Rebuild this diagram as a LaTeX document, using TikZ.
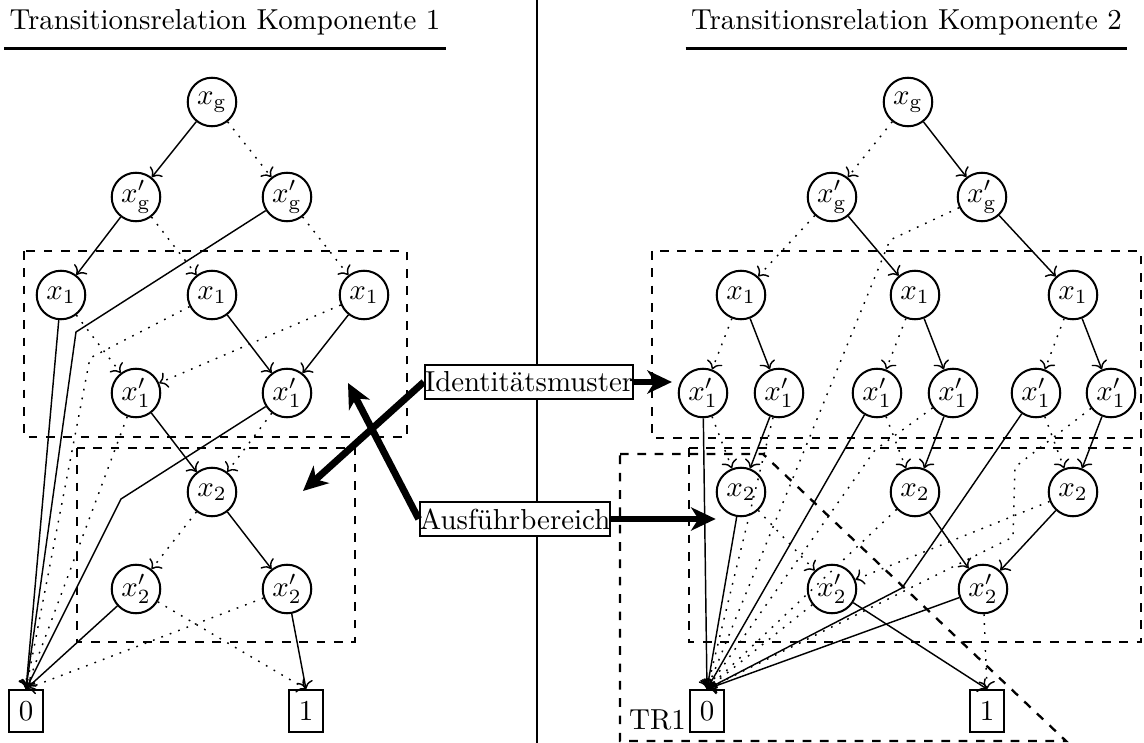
\documentclass[tikz,border=0pt]{standalone}
\usepackage{amsmath}
\usepackage{tikz}
\usetikzlibrary{arrows,arrows.meta,shapes,positioning,calc}

\tikzset{
  var/.style={draw, circle, line width=0.7pt, minimum size=16.8pt, inner sep=0pt},
  leaf/.style={draw, rectangle, line width=0.7pt, minimum width=11.7pt, minimum height=14.5pt, inner sep=0pt},
  hi/.style={->, line width=0.5pt},
  lo/.style={->, line width=0.5pt, dash pattern=on 0.6pt off 2.5pt},
  region/.style={dashed, thick},
  callout/.style={draw, rectangle, line width=0.7pt, fill=white, inner xsep=0pt, inner ysep=0pt, minimum height=11.8pt},
  pointer/.style={-{Stealth[length=8.5pt, width=8pt, inset=2.5pt]}, line width=2.4pt},
  heading/.style={anchor=base, inner xsep=1.7pt, inner ysep=4.3pt}
}

\begin{document}
\begin{tikzpicture}[x=3.46pt, y=3.46pt]
\useasboundingbox (0,0) rectangle (114.4,74.3);

% Headings
\node[heading] (head1) at (22.5,71.3) {Transitionsrelation Komponente 1};
\node[heading] (head2) at (90.65,71.3) {Transitionsrelation Komponente 2};
\draw[thick] (head1.south west) -- (head1.south east);
\draw[thick] (head2.south west) -- (head2.south east);

% Separator
\coordinate (septop) at (53.7,74.3);
\coordinate (sepbot) at (53.7,0);
\draw (septop) -- (sepbot);

% Regions
\draw[region] (2.4,49.2) rectangle (40.7,30.6);
\draw[region] (7.7,29.5) rectangle (35.5,10.1);
\draw[region] (65.2,49.2) rectangle (114.1,30.5);
\draw[region] (68.9,29.5) rectangle (114.1,10.1);
\draw[region] (62.0,28.9) -- (76.3,28.9) -- (106.6,0.2) -- (62.0,0.2) -- cycle;
\node[anchor=base, inner sep=0pt] (tr1) at (65.75,1.3) {TR1};

% Component 1
\node[var] (lg) at (21.2,64.1) {$x_{\mathrm{g}}$};
\node[var] (lgp1) at (13.6,54.6) {$x'_{\mathrm{g}}$};
\node[var] (lgp2) at (28.7,54.6) {$x'_{\mathrm{g}}$};
\node[var] (l1a) at (6.1,44.8) {$x_1$};
\node[var] (l1b) at (21.2,44.8) {$x_1$};
\node[var] (l1c) at (36.4,44.8) {$x_1$};
\node[var] (l1pa) at (13.6,35.0) {$x'_1$};
\node[var] (l1pb) at (28.7,35.0) {$x'_1$};
\node[var] (l2) at (21.2,25.1) {$x_2$};
\node[var] (l2pa) at (13.6,15.4) {$x'_2$};
\node[var] (l2pb) at (28.7,15.4) {$x'_2$};
\node[leaf] (lzero) at (2.6,3.2) {0};
\node[leaf] (lone) at (30.6,3.2) {1};

\coordinate (lbendA) at (7.6,41.1);
\coordinate (lbendB) at (9.0,38.5);
\coordinate (lbendC) at (12.1,24.4);

% Component 2
\node[var] (rg) at (90.8,64.1) {$x_{\mathrm{g}}$};
\node[var] (rgp1) at (83.2,54.6) {$x'_{\mathrm{g}}$};
\node[var] (rgp2) at (98.2,54.6) {$x'_{\mathrm{g}}$};
\node[var] (r1a) at (74.1,44.8) {$x_1$};
\node[var] (r1b) at (91.5,44.8) {$x_1$};
\node[var] (r1c) at (107.3,44.8) {$x_1$};
\node[var] (r1pa) at (70.3,35.0) {$x'_1$};
\node[var] (r1pb) at (77.9,35.0) {$x'_1$};
\node[var] (r1pc) at (87.7,35.0) {$x'_1$};
\node[var] (r1pd) at (95.3,35.0) {$x'_1$};
\node[var] (r1pe) at (103.6,35.0) {$x'_1$};
\node[var] (r1pf) at (111.1,35.0) {$x'_1$};
\node[var] (r2a) at (74.1,25.1) {$x_2$};
\node[var] (r2b) at (91.5,25.1) {$x_2$};
\node[var] (r2c) at (107.3,25.1) {$x_2$};
\node[var] (r2pa) at (83.2,15.4) {$x'_2$};
\node[var] (r2pb) at (98.3,15.4) {$x'_2$};
\node[leaf] (rzero) at (70.7,3.2) {0};
\node[leaf] (rone) at (98.7,3.2) {1};

\coordinate (rbendA) at (89.0,50.3);
\coordinate (rbendB) at (87.5,29.3);
\coordinate (rbendC) at (90.2,15.5);
\coordinate (rbendD) at (101.5,27.6);
\coordinate (rbendE) at (101.3,20.6);

% Flows component 1
\draw[hi] (lg) -- (lgp1);
\draw[lo] (lg) -- (lgp2);
\draw[hi] (lgp1) -- (l1a);
\draw[lo] (lgp1) -- (l1b);
\draw[hi] (lgp2) -- (lbendA) -- (lzero.north);
\draw[lo] (lgp2) -- (l1c);
\draw[hi] (l1a) -- (lzero.north);
\draw[lo] (l1a) -- (l1pa);
\draw[hi] (l1b) -- (l1pb);
\draw[lo] (l1b) -- (lbendB) -- (lzero.north);
\draw[hi] (l1c) -- (l1pb);
\draw[lo] (l1c) -- (l1pa);
\draw[hi] (l1pa) -- (l2);
\draw[lo] (l1pa) -- (lzero.north);
\draw[hi] (l1pb) -- (lbendC) -- (lzero.north);
\draw[lo] (l1pb) -- (l2);
\draw[hi] (l2) -- (l2pb);
\draw[lo] (l2) -- (l2pa);
\draw[hi] (l2pa) -- (lzero.north);
\draw[lo] (l2pa) -- (lone.north);
\draw[hi] (l2pb) -- (lone.north);
\draw[lo] (l2pb) -- (lzero.north);

% Flows component 2
\draw[lo] (rg) -- (rgp1);
\draw[hi] (rg) -- (rgp2);
\draw[lo] (rgp1) -- (r1a);
\draw[hi] (rgp1) -- (r1b);
\draw[hi] (rgp2) -- (r1c);
\draw[lo] (rgp2) -- (rbendA) -- (rzero.north);
\draw[lo] (r1a) -- (r1pa);
\draw[hi] (r1a) -- (r1pb);
\draw[lo] (r1b) -- (r1pc);
\draw[hi] (r1b) -- (r1pd);
\draw[lo] (r1c) -- (r1pe);
\draw[hi] (r1c) -- (r1pf);
\draw[hi] (r1pa) -- (rzero.north);
\draw[lo] (r1pa) -- (r2a);
\draw[hi] (r1pb) -- (r2a);
\draw[lo] (r1pb) -- (rzero.north);
\draw[hi] (r1pc) -- (rzero.north);
\draw[lo] (r1pc) -- (r2b);
\draw[hi] (r1pd) -- (r2b);
\draw[lo] (r1pd) -- (rbendB) -- (rzero.north);
\draw[hi] (r1pe) -- (rbendC) -- (rzero.north);
\draw[lo] (r1pe) -- (r2c);
\draw[hi] (r1pf) -- (r2c);
\draw[lo] (r1pf) -- (rbendD) -- (rbendE) -- (rzero.north);
\draw[hi] (r2a) -- (rzero.north);
\draw[lo] (r2a) -- (r2pa);
\draw[hi] (r2b) -- (r2pb);
\draw[lo] (r2b) -- (rzero.north);
\draw[hi] (r2c) -- (r2pb);
\draw[lo] (r2c) -- (r2pa);
\draw[hi] (r2pa) -- (rone.north);
\draw[lo] (r2pa) -- (rzero.north);
\draw[hi] (r2pb) -- (rzero.north);
\draw[lo] (r2pb) -- (rone.north);

% Labels
\node[callout] (ident) at (52.9,36.1) {Identitätsmuster};
\node[callout] (ausf) at (51.5,22.4) {Ausführbereich};
\coordinate (lfocusA) at (30.3,25.2);
\coordinate (lfocusB) at (34.8,36.0);
\draw[pointer] (ident.west) -- (lfocusA);
\draw[pointer, shorten >=2pt] (ident.east) -- (ident.east -| r1pa.west);
\draw[pointer] (ausf.west) -- (lfocusB);
\draw[pointer] (ausf.east) -- (ausf.east -| r2a.west);

\end{tikzpicture}
\end{document}
